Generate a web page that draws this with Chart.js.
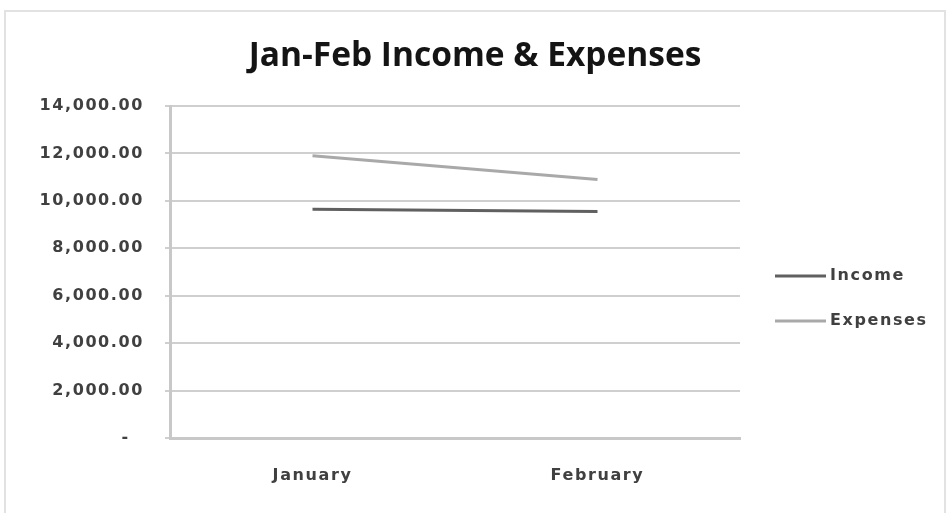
<!DOCTYPE html>
<html>
<head>
<meta charset="utf-8">
<script src="https://cdn.jsdelivr.net/npm/chart.js@4"></script>
<style>
  html, body { margin: 0; padding: 0; background: #fff; }
  #wrap { position: relative; width: 949px; height: 513px; }
  canvas { display: block; }
</style>
</head>
<body>
<div id="wrap"><canvas id="c" width="949" height="513"></canvas></div>
<script>
const chartTitle = "Jan-Feb Income & Expenses";
const categories = ["January", "February"];
const incomeValues = [9650, 9550];
const expenseValues = [11900, 10900];
const seriesNames = ["Income", "Expenses"];
const yTicks = [0, 2000, 4000, 6000, 8000, 10000, 12000, 14000];

const TITLE_FONT = "'Open Sans', Lato, sans-serif";
const FONT = "'DejaVu Sans', 'Open Sans', sans-serif";
const TEXT = "#404040";
const SPACING = "1.6px";

function fmt(v) {
  if (v === 0) return "-  ";
  return v.toLocaleString("en-US", { minimumFractionDigits: 2, maximumFractionDigits: 2 });
}

const decor = {
  id: "decor",
  beforeDraw(chart) {
    const ctx = chart.ctx;
    ctx.letterSpacing = SPACING;
    ctx.save();
    ctx.strokeStyle = "#e2e2e2";
    ctx.lineWidth = 2;
    ctx.beginPath();
    ctx.moveTo(5, 520);
    ctx.lineTo(5, 11);
    ctx.lineTo(945, 11);
    ctx.lineTo(945, 520);
    ctx.stroke();
    ctx.restore();
  },
  afterDraw(chart) {
    const ctx = chart.ctx;
    ctx.save();
    ctx.letterSpacing = "0px";
    ctx.fillStyle = "#141414";
    ctx.font = "bold 33.5px " + TITLE_FONT;
    ctx.textAlign = "center";
    ctx.textBaseline = "alphabetic";
    ctx.fillText(chartTitle, 475, 66);
    // legend
    const ys = [276, 321];
    chart.data.datasets.forEach((ds, i) => {
      ctx.strokeStyle = ds.borderColor;
      ctx.lineWidth = 3;
      ctx.beginPath();
      ctx.moveTo(775, ys[i]);
      ctx.lineTo(826, ys[i]);
      ctx.stroke();
      ctx.fillStyle = TEXT;
      ctx.letterSpacing = SPACING;
      ctx.font = "bold 16px " + FONT;
      ctx.textAlign = "left";
      ctx.textBaseline = "middle";
      ctx.fillText(ds.label, 830, ys[i]);
    });
    ctx.restore();
  }
};

new Chart(document.getElementById("c"), {
  type: "line",
  data: {
    labels: categories,
    datasets: [
      { label: seriesNames[0], data: incomeValues, borderColor: "#606060", borderWidth: 3, pointRadius: 0, tension: 0 },
      { label: seriesNames[1], data: expenseValues, borderColor: "#a9a9a9", borderWidth: 3, pointRadius: 0, tension: 0 }
    ]
  },
  options: {
    responsive: false,
    animation: false,
    devicePixelRatio: 1,
    layout: { padding: { top: 106, right: 209, bottom: 0, left: 0 } },
    plugins: { legend: { display: false }, title: { display: false }, tooltip: { enabled: false } },
    scales: {
      x: {
        type: "category",
        offset: true,
        grid: { display: false, drawTicks: false },
        border: { color: "#c8c8c8", width: 3 },
        ticks: { color: TEXT, font: { family: FONT, size: 16, weight: "bold" }, padding: 28 },
        afterFit(s) { s.height = 75; }
      },
      y: {
        min: 0, max: 14000,
        afterBuildTicks(s) { s.ticks = yTicks.map(v => ({ value: v })); },
        grid: { color: "#cfcfcf", lineWidth: 2, tickLength: 5, drawTicks: true },
        border: { color: "#c8c8c8", width: 3 },
        ticks: { color: TEXT, font: { family: FONT, size: 16, weight: "bold" }, padding: 21, callback: v => fmt(v) },
        afterFit(s) { s.width = 170; }
      }
    }
  },
  plugins: [decor]
});
</script>
</body>
</html>
